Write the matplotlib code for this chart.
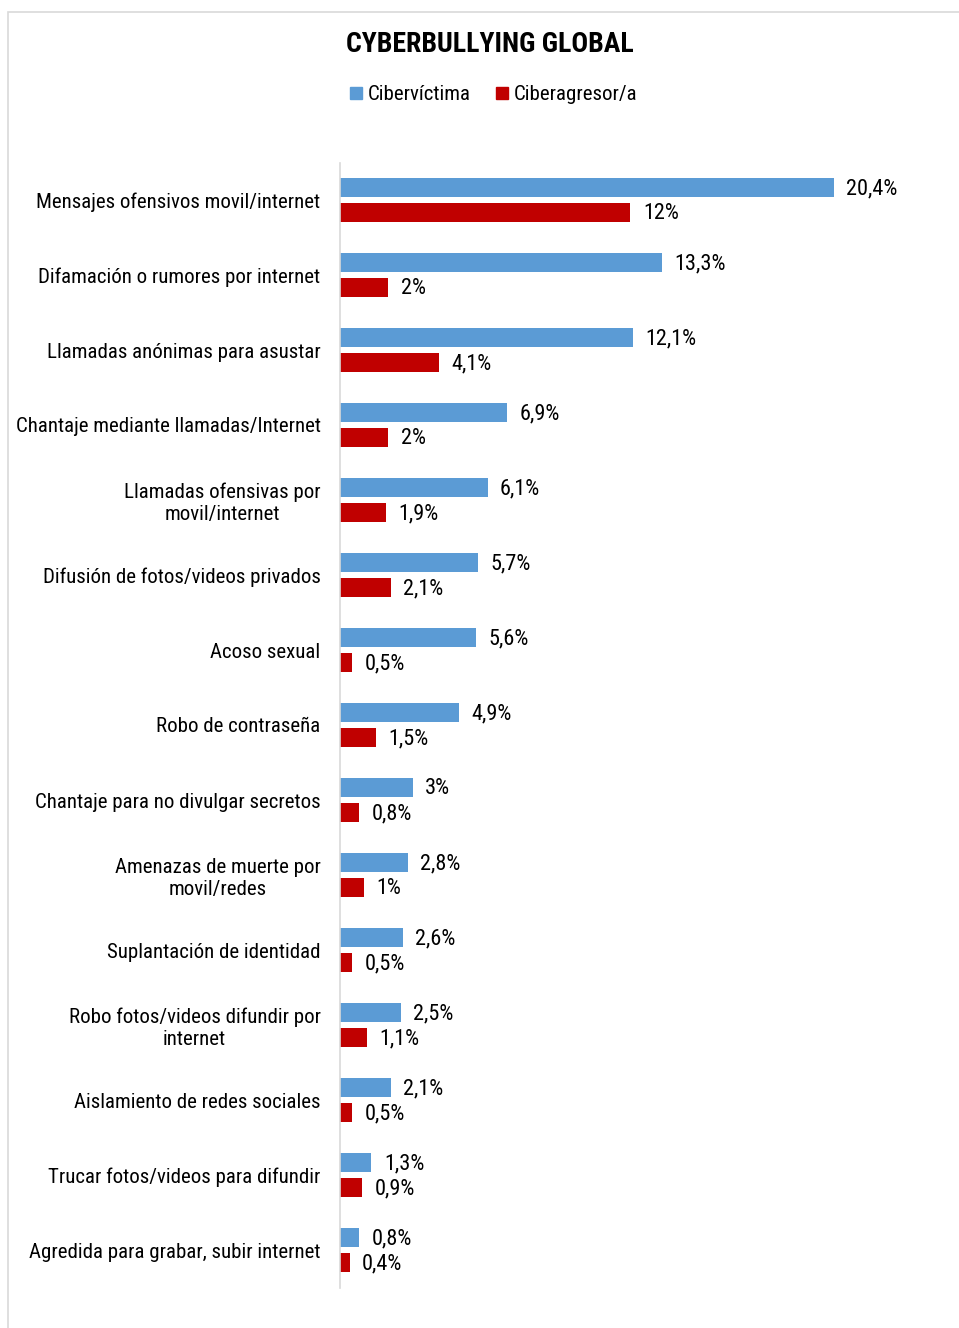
import matplotlib.pyplot as plt
from matplotlib.patches import Patch, Rectangle

plt.rcParams['font.family'] = ['Roboto Condensed', 'DejaVu Sans']

categories = [
    'Mensajes ofensivos movil/internet',
    'Difamación o rumores por internet',
    'Llamadas anónimas para asustar',
    'Chantaje mediante llamadas/Internet',
    'Llamadas ofensivas por\nmovil/internet',
    'Difusión de fotos/videos privados',
    'Acoso sexual',
    'Robo de contraseña',
    'Chantaje para no divulgar secretos',
    'Amenazas de muerte por\nmovil/redes',
    'Suplantación de identidad',
    'Robo fotos/videos difundir por\ninternet',
    'Aislamiento de redes sociales',
    'Trucar fotos/videos para difundir',
    'Agredida para grabar, subir internet',
]
victima = [20.4, 13.3, 12.1, 6.9, 6.1, 5.7, 5.6, 4.9, 3, 2.8, 2.6, 2.5, 2.1, 1.3, 0.8]
agresor = [12, 2, 4.1, 2, 1.9, 2.1, 0.5, 1.5, 0.8, 1, 0.5, 1.1, 0.5, 0.9, 0.4]

c_blue = '#5B9BD5'
c_red = '#C00000'


def pct(v):
    return f'{v:g}'.replace('.', ',') + '%'


W, H = 959, 1328
fig = plt.figure(figsize=(W / 100, H / 100), dpi=100)
ax = fig.add_axes([340 / W, 40.5 / H, 605 / W, 1125 / H])

# light frame of the chart area
fig.patches.append(Rectangle((8 / W, -0.1), 1.2, (H - 12) / H + 0.1, transform=fig.transFigure,
                             facecolor='none', edgecolor='#D9D9D9', lw=1.2))

pos = list(range(len(categories)))
off = 0.167
bh = 0.26
ax.barh([p - off for p in pos], victima, height=bh, color=c_blue, label='Cibervíctima')
ax.barh([p + off for p in pos], agresor, height=bh, color=c_red, label='Ciberagresor/a')

for p, v in zip(pos, victima):
    ax.annotate(pct(v), (v, p - off), xytext=(9, -1), textcoords='offset points',
                va='center', ha='left', fontsize=16)
for p, v in zip(pos, agresor):
    ax.annotate(pct(v), (v, p + off), xytext=(9, -1), textcoords='offset points',
                va='center', ha='left', fontsize=16)

ax.set_xlim(0, 25)
ax.set_ylim(len(categories) - 0.5, -0.5)
ax.set_yticks(pos)
ax.set_yticklabels(categories, fontsize=15, multialignment='center')
ax.tick_params(axis='y', length=0, pad=14)
ax.set_xticks([])
for s in ['top', 'right', 'bottom']:
    ax.spines[s].set_visible(False)
ax.spines['left'].set_color('#D9D9D9')
ax.spines['left'].set_linewidth(1.2)

fig.text(490 / W, 1 - 45 / H, 'CYBERBULLYING GLOBAL', ha='center', va='center',
         fontsize=20, fontweight='bold')
handles = [Patch(color=c_blue, label='Cibervíctima'), Patch(color=c_red, label='Ciberagresor/a')]
fig.legend(handles=handles, loc='center', bbox_to_anchor=(494 / W, 1 - 95 / H), ncol=2,
           frameon=False, fontsize=15, handlelength=0.55, handleheight=0.55,
           handletextpad=0.3, columnspacing=1.2)

plt.savefig('out.png', dpi=100)
